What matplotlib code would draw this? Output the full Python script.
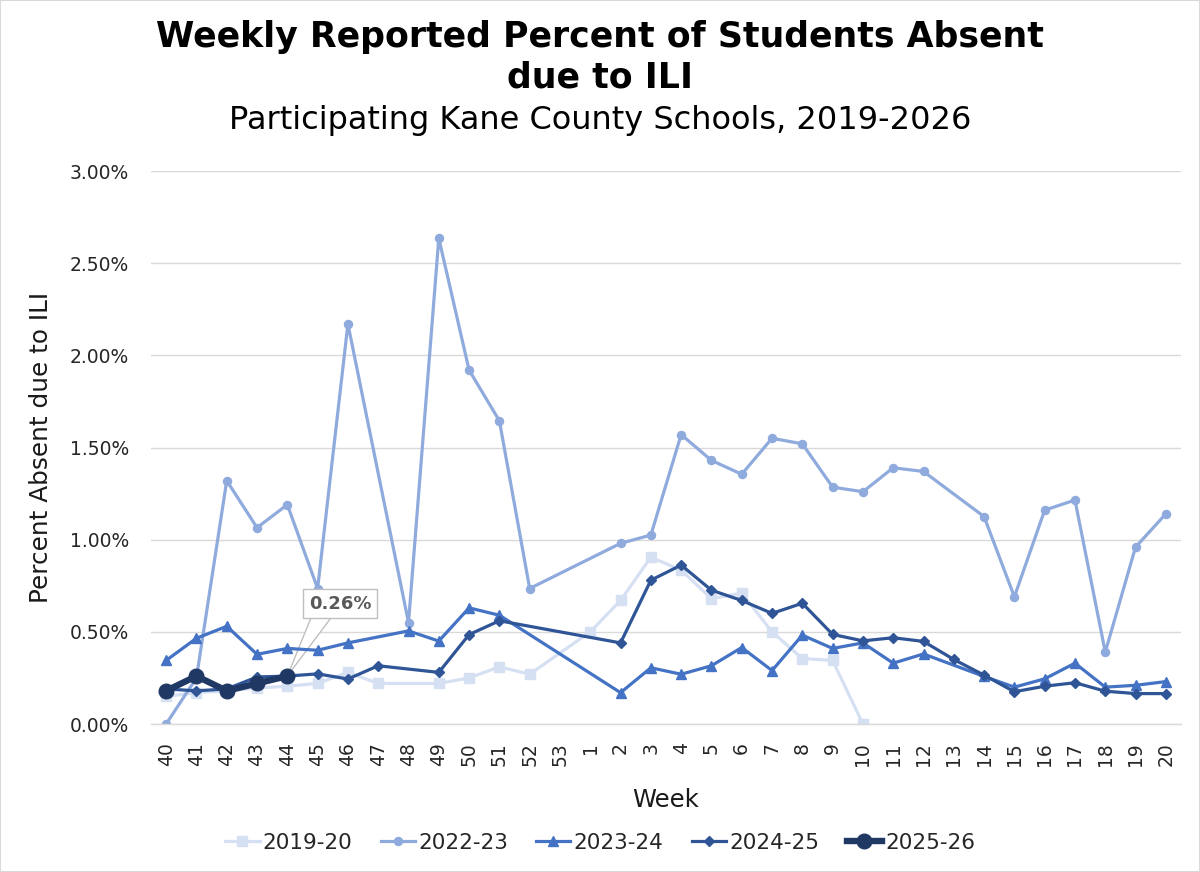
import matplotlib
matplotlib.use("Agg")
import matplotlib.pyplot as plt
from matplotlib.patches import Rectangle, Polygon
from matplotlib.transforms import ScaledTranslation
from matplotlib.ticker import FuncFormatter, MultipleLocator
import numpy as np

plt.rcParams['font.family'] = ['DejaVu Sans']

weeks = list(range(40, 54)) + list(range(1, 21))
N = None

s2019 = [0.15, 0.17, 0.18, 0.195, 0.205, 0.22, 0.28, 0.22, N, 0.22, 0.25, 0.31, 0.27, N,
         0.50, 0.67, 0.905, 0.835, 0.68, 0.71, 0.50, 0.355, 0.345, 0.00,
         N, N, N, N, N, N, N, N, N, N]
s2022 = [0.00, 0.25, 1.32, 1.065, 1.19, 0.735, 2.17, N, 0.55, 2.635, 1.92, 1.645, 0.735, N,
         N, 0.98, 1.025, 1.57, 1.43, 1.355, 1.55, 1.52, 1.285, 1.26,
         1.39, 1.37, N, 1.125, 0.69, 1.16, 1.215, 0.39, 0.96, 1.14]
s2023 = [0.345, 0.465, 0.53, 0.378, 0.41, 0.40, 0.44, N, 0.505, 0.45, 0.63, 0.59, N, N,
         N, 0.17, 0.305, 0.27, 0.316, 0.415, 0.29, 0.482, 0.41, 0.44,
         0.33, 0.38, N, 0.258, 0.20, 0.245, 0.33, 0.20, 0.21, 0.23]
s2024 = [0.19, 0.18, 0.19, 0.255, 0.26, 0.272, 0.244, 0.316, N, 0.28, 0.485, 0.56, N, N,
         N, 0.44, 0.78, 0.862, 0.726, 0.67, 0.60, 0.655, 0.486, 0.451,
         0.468, 0.448, 0.35, 0.265, 0.175, 0.205, 0.224, 0.178, 0.165, 0.165]
s2025 = [0.18, 0.26, 0.18, 0.22, 0.26] + [N] * 29

labels = ["2019-20", "2022-23", "2023-24", "2024-25", "2025-26"]
series = [s2019, s2022, s2023, s2024, s2025]
colors = ["#D6E0F3", "#8FAADC", "#4472C4", "#2F5597", "#203864"]
markers = ["s", "o", "^", "D", "o"]
msizes = [7, 5.8, 7, 5.2, 10.5]
lws = [2.3, 2.3, 2.3, 2.3, 4.6]

fig = plt.figure(figsize=(12, 8.72), dpi=100)
ax = fig.add_axes([151 / 1200, 1 - 724 / 872, 1030 / 1200, (724 - 171) / 872])

x_all = np.arange(len(weeks))
for lab, s, c, m, ms, lw in zip(labels, series, colors, markers, msizes, lws):
    xs = [i for i, v in zip(x_all, s) if v is not None]
    ys = [v for v in s if v is not None]
    ax.plot(xs, ys, color=c, marker=m, markersize=ms, linewidth=lw,
            markerfacecolor=c, markeredgecolor=c, label=lab, solid_joinstyle='round')

ax.set_xlim(-0.5, len(weeks) - 0.5)
ax.set_ylim(0, 3.0)
ax.yaxis.set_major_locator(MultipleLocator(0.5))
ax.yaxis.set_major_formatter(FuncFormatter(lambda v, p: f"{v:.2f}%"))
ax.set_xticks(x_all)
ax.set_xticklabels([str(w) for w in weeks], rotation=90)
ax.tick_params(axis='both', length=0, labelsize=13.5, colors='#262626')
ax.tick_params(axis='y', pad=16)
ax.tick_params(axis='x', pad=13)
ax.grid(axis='y', color='#D9D9D9', linewidth=1.0)
ax.set_axisbelow(True)
for sp in ['top', 'right', 'left']:
    ax.spines[sp].set_visible(False)
ax.spines['bottom'].set_color('#D9D9D9')
ax.spines['bottom'].set_linewidth(1.0)

ax.set_xlabel("Week", fontsize=17.5, color='#1a1a1a', labelpad=16)
ax.set_ylabel("Percent Absent due to ILI", fontsize=17.8, color='#1a1a1a', labelpad=12)

# data label callout for latest value
last_i = max(i for i, v in enumerate(s2025) if v is not None)
ax.annotate(f"{s2025[last_i]:.2f}%", xy=(last_i, s2025[last_i]),
            xytext=(38, 52), textcoords='offset points',
            ha='center', va='center', fontsize=13, fontweight='bold', color='#595959',
            bbox=dict(boxstyle='square,pad=0.3', fc='white', ec='#BFBFBF', lw=1),
            zorder=10)
# callout pointer (in inches relative to the data point)
ptrans = fig.dpi_scale_trans + ScaledTranslation(last_i, s2025[last_i], ax.transData)
ax.add_patch(Polygon([(0.0, 0.0), (0.26, 0.64), (0.48, 0.64)], closed=True,
                     transform=ptrans, fc='white', ec='#BFBFBF', lw=1, zorder=1.9))

fig.text(0.5, 1 - 37 / 872, "Weekly Reported Percent of Students Absent",
         ha='center', va='center', fontsize=25, fontweight='bold', color='black')
fig.text(0.5, 1 - 78 / 872, "due to ILI",
         ha='center', va='center', fontsize=25, fontweight='bold', color='black')
fig.text(0.5, 1 - 121 / 872, "Participating Kane County Schools, 2019-2026",
         ha='center', va='center', fontsize=23, color='black')

leg = fig.legend(loc='center', bbox_to_anchor=(0.5, 1 - 843 / 872), ncol=5,
                 frameon=False, fontsize=15.5, handlelength=1.6, handletextpad=0.15,
                 columnspacing=1.3)
for t in leg.get_texts():
    t.set_color('#262626')

fig.patches.append(Rectangle((0, 0), 1, 1, transform=fig.transFigure, fill=False,
                             edgecolor='#D9D9D9', linewidth=1.5))

fig.savefig("out.png", dpi=100)
